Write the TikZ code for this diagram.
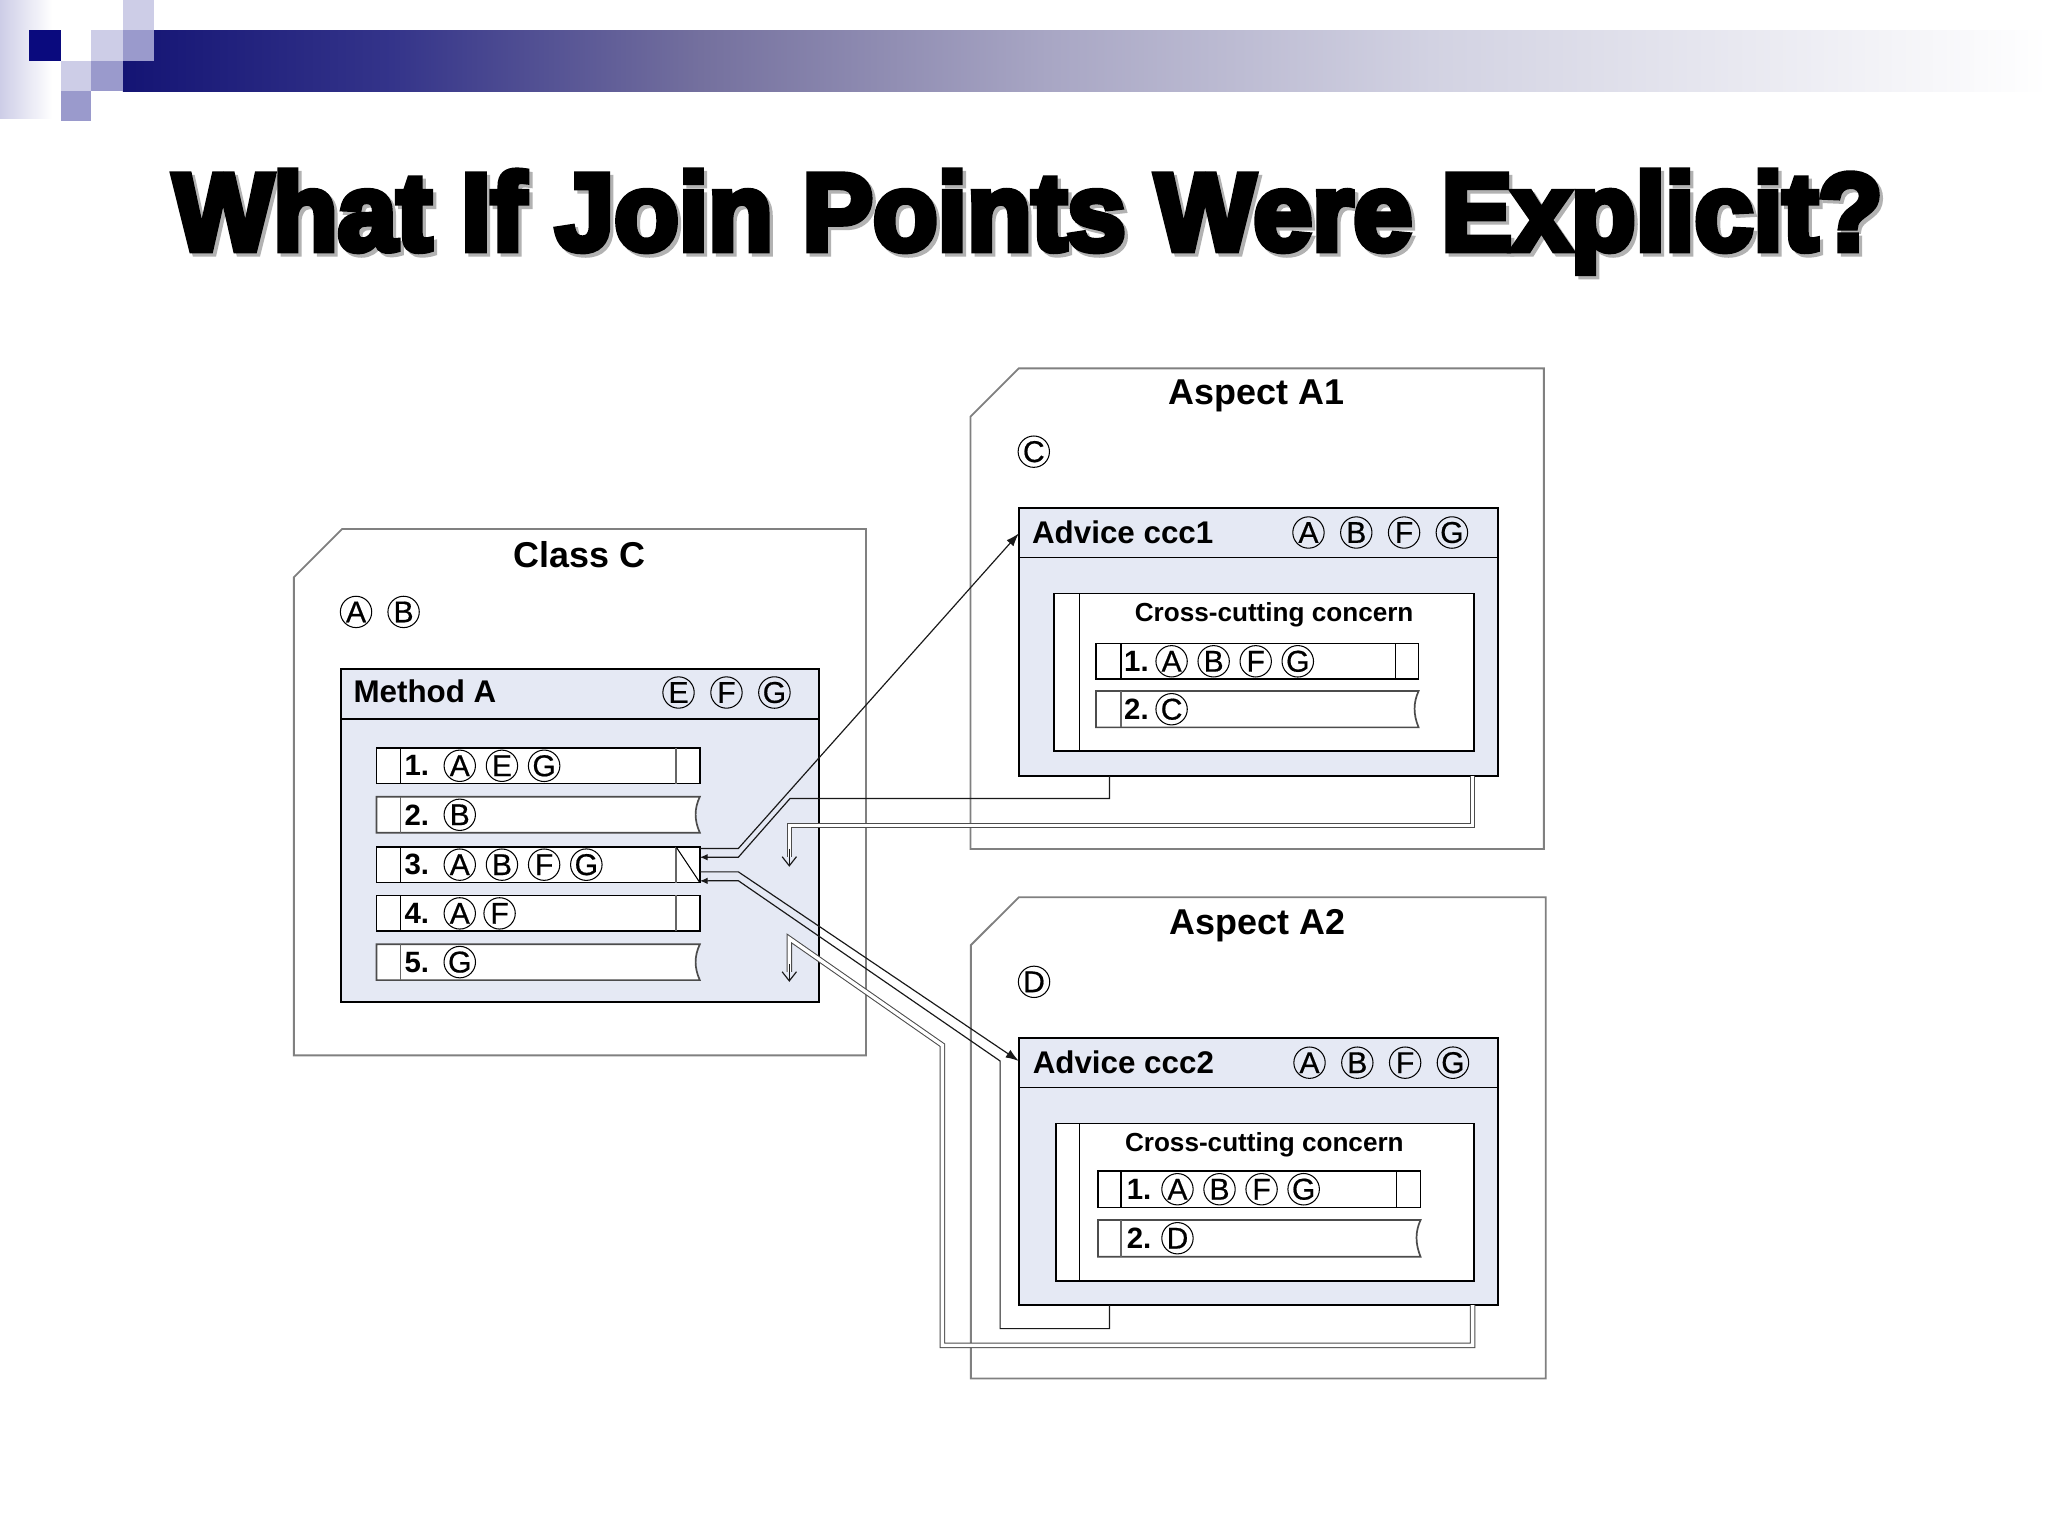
\documentclass[tikz,border=0pt]{standalone}
\usepackage{fontspec}
\setmainfont{Liberation Sans}
\newfontfamily\titlefont[FakeBold=6]{Liberation Sans Bold}
\newfontfamily\jpfont[FakeBold=0.6]{Liberation Sans}
\usetikzlibrary{arrows.meta}

\definecolor{navy}{HTML}{0A0A7E}
\definecolor{lilac}{HTML}{9A9ACC}
\definecolor{lilaclight}{HTML}{CDCDE7}
\definecolor{boxfill}{HTML}{E5E9F4}
\definecolor{bar0}{HTML}{141474}
\definecolor{bar1}{HTML}{34348A}
\definecolor{bar2}{HTML}{74709E}
\definecolor{bar3}{HTML}{A8A6C4}
\definecolor{bar4}{HTML}{D2D2E2}
\definecolor{bar5}{HTML}{EEEEF4}
\pgfdeclarehorizontalshading{topbar}{100bp}{color(0bp)=(bar0); color(25bp)=(bar0); color(32bp)=(bar1); color(40bp)=(bar2); color(49bp)=(bar3); color(59bp)=(bar4); color(69bp)=(bar5); color(75bp)=(white); color(100bp)=(white)}

\begin{document}
\begin{tikzpicture}[x=1pt, y=-1pt,
    shellbox/.style={draw=black!50, line width=1.4pt},
    inbox/.style={draw=black, fill=boxfill, line width=1.4pt, inner sep=0pt, outer sep=0pt, anchor=north west},
    stmt/.style={draw=black, fill=white, line width=1.3pt, inner sep=0pt, outer sep=0pt, anchor=north west, minimum width=247.6pt, minimum height=27.4pt},
    rowbox/.style={draw=black, fill=white, line width=1.3pt},
    torn/.style={draw=black!70, fill=white, line width=1.3pt},
    ttl/.style={anchor=base, inner sep=0pt, font=\titlefont\fontsize{83.8}{90}\selectfont},
    boxtitle/.style={font=\bfseries\fontsize{27.5}{30}\selectfont},
    hd/.style={anchor=west, inner sep=0pt, font=\bfseries\fontsize{24}{26}\selectfont},
    num/.style={anchor=west, inner sep=0pt, font=\bfseries\fontsize{22.5}{24}\selectfont},
    cc/.style={font=\bfseries\fontsize{20}{22}\selectfont},
    jp/.style={circle, draw, line width=0.8pt, inner sep=0pt, minimum size=24pt, font=\jpfont\fontsize{23}{23}\selectfont},
    link/.style={draw=black!90, line width=0.9pt},
    dlink/.style={draw=black!70, line width=0.8pt, double, double distance=2.6pt},
  ]
  \fill[white] (0,0) rectangle (1568,1176);
  \useasboundingbox (0,0) rectangle (1568,1176);

  % Banner
  \shade[left color=lilaclight, right color=white] (0,0) rectangle (40,91);
  \shade[shading=topbar] (94,23) rectangle (1568,70);
  \fill[navy] (22,23) rectangle (47,47);
  \fill[lilaclight] (94,0) rectangle (118,23);
  \fill[lilaclight] (70,23) rectangle (94,47);
  \fill[lilac] (94,23) rectangle (118,47);
  \fill[lilaclight] (47,47) rectangle (70,70);
  \fill[lilac] (70,47) rectangle (94,70);
  \fill[lilac] (47,70) rectangle (70,93);

  % Title
  \node[ttl, text=black!30] (titleshade) at (789.5,194) {\scalebox{0.967}[1]{What If Join Points Were Explicit?}};
  \node[ttl] (title) at (787,191.4) {\scalebox{0.967}[1]{What If Join Points Were Explicit?}};

  % Class C
  \draw[shellbox] (225,442) -- (262,405) -- (663,405) -- (663,808) -- (225,808) -- cycle;
  \node[boxtitle] (classC) at (443.5,424.3) {Class C};
  \node[jp] (cA) at (272.6,468.5) {A};
  \node[jp] (cB) at (309,468.5) {B};

  % Method A
  \node[inbox, minimum width=366pt, minimum height=255pt] (meth) at (261,512) {};
  \draw[line width=1.1pt] (261,550.5) -- (627,550.5);
  \node[hd] (methT) at (270.5,529) {Method A};
  \foreach \l [count=\i] in {E,F,G}
    \node[jp] (mh\l) at ({519.5+36.7*(\i-1)},530.2) {\l};

  % Statements
  \node[stmt] (m1) at (288.2,572.5) {};
  \node[stmt] (m3) at (288.2,648.3) {};
  \node[stmt] (m4) at (288.2,685.5) {};
  \foreach \r in {m1,m3,m4} {
    \draw[line width=1.1pt] (\r.north west) ++(18.5,0) -- ++(0,27.4);
    \draw[black!60, line width=1.1pt] (\r.north east) ++(-18.2,0) -- ++(0,27.4);
  }
  \draw[line width=0.8pt] (m3.north east) ++(-18.2,0) -- (m3.south east);
  \filldraw[torn] (288.2,610) -- (535.8,610) .. controls (531.5,619) and (531.5,628) .. (535.8,637.5) -- (288.2,637.5) -- cycle;
  \filldraw[torn] (288.2,723) -- (535.8,723) .. controls (531.5,732) and (531.5,741) .. (535.8,750.4) -- (288.2,750.4) -- cycle;
  \draw[black!60, line width=1.1pt] (306.7,610) -- (306.7,637.5);
  \draw[black!60, line width=1.1pt] (306.7,723) -- (306.7,750.4);

  \node[num] (n1) at (309.5,586.3) {1.};
  \foreach \l [count=\i] in {A,E,G}
    \node[jp] (p1\l) at ({352+32.3*(\i-1)},586.3) {\l};
  \node[num] (n2) at (309.5,623.8) {2.};
  \node[jp] (p2B) at (352,623.8) {B};
  \node[num] (n3) at (309.5,662) {3.};
  \foreach \l [count=\i] in {A,B,F,G}
    \node[jp] (p3\l) at ({352+32.3*(\i-1)},662) {\l};
  \node[num] (n4) at (309.5,699.3) {4.};
  \node[jp] (p4A) at (352,699.3) {A};
  \node[jp] (p4F) at (382.5,699.3) {F};
  \node[num] (n5) at (309.5,736.6) {5.};
  \node[jp] (p5G) at (352,736.6) {G};

  % Aspect A1
  \draw[shellbox] (743,319) -- (780,282) -- (1182,282) -- (1182,650) -- (743,650) -- cycle;
  \node[boxtitle] (aspA1) at (962,303) {Aspect A1};
  \node[jp] (a1C) at (791.5,345.8) {C};
  \node[inbox, minimum width=366.8pt, minimum height=205pt] (adv1) at (780,389) {};
  \draw[line width=1.1pt] (780,427) -- (1146.8,427);
  \node[hd] (adv1T) at (790,407.5) {Advice ccc1};
  \foreach \l [count=\i] in {A,B,F,G}
    \node[jp] (a1h\l) at ({1001.8+36.6*(\i-1)},407.7) {\l};
  \draw[rowbox] (807,454.3) rectangle (1128.3,574.8);
  \draw[line width=1.1pt] (826.5,454.3) -- (826.5,574.8);
  \node[cc] (cc1) at (975.5,471) {Cross-cutting concern};
  \draw[rowbox] (839.1,492.6) rectangle (1086.1,519.9);
  \draw[line width=1.1pt] (858.1,492.6) -- (858.1,519.9);
  \draw[line width=1.1pt] (1068.2,492.6) -- (1068.2,519.9);
  \filldraw[torn] (839.1,529.1) -- (1086.1,529.1) .. controls (1082,538) and (1082,547) .. (1086.1,556.9) -- (839.1,556.9) -- cycle;
  \draw[black!60, line width=1.1pt] (858.1,529.1) -- (858.1,556.9);
  \node[num] (a1n1) at (860.5,506.3) {1.};
  \foreach \l [count=\i] in {A,B,F,G}
    \node[jp] (a1r\l) at ({897+32.2*(\i-1)},506.3) {\l};
  \node[num] (a1n2) at (860.5,543) {2.};
  \node[jp] (a1rC) at (897,543) {C};

  % Aspect A2
  \draw[shellbox] (743.3,723.6) -- (780,687) -- (1183.4,687) -- (1183.4,1055.4) -- (743.3,1055.4) -- cycle;
  \node[boxtitle] (aspA2) at (963,708.9) {Aspect A2};
  \node[jp] (a2D) at (791.7,751.7) {D};
  \node[inbox, minimum width=366.8pt, minimum height=204.2pt] (adv2) at (780,795) {};
  \draw[line width=1.1pt] (780,832.8) -- (1146.8,832.8);
  \node[hd] (adv2T) at (790.5,813) {Advice ccc2};
  \foreach \l [count=\i] in {A,B,F,G}
    \node[jp] (a2h\l) at ({1002.6+36.6*(\i-1)},813.6) {\l};
  \draw[rowbox] (808.3,860.1) rectangle (1128.3,980.6);
  \draw[line width=1.1pt] (826.5,860.1) -- (826.5,980.6);
  \node[cc] (cc2) at (968,876.7) {Cross-cutting concern};
  \draw[rowbox] (840.6,896.6) rectangle (1087.6,924.4);
  \draw[line width=1.1pt] (858.1,896.6) -- (858.1,924.4);
  \draw[line width=1.1pt] (1069.1,896.6) -- (1069.1,924.4);
  \filldraw[torn] (840.6,934.1) -- (1087.6,934.1) .. controls (1083.5,943) and (1083.5,952) .. (1087.6,962.2) -- (840.6,962.2) -- cycle;
  \draw[black!60, line width=1.1pt] (858.1,934.1) -- (858.1,962.2);
  \node[num] (a2n1) at (862.5,910.5) {1.};
  \foreach \l [count=\i] in {A,B,F,G}
    \node[jp] (a2r\l) at ({901.5+32.2*(\i-1)},910.5) {\l};
  \node[num] (a2n2) at (862.5,948) {2.};
  \node[jp] (a2rD) at (901.5,948) {D};

  % Calls into the advice
  \draw[link, -{Latex[length=10pt,width=7pt]}] ([yshift=-1.3pt]m3.north east) -- ++(29.5,0) -- ([yshift=-19.4pt]adv1.north west);
  \draw[link, -{Latex[length=10pt,width=7pt]}] ([yshift=8.2pt]m3.south east) -- ++(29.5,0) -- ([yshift=-17.3pt]adv2.north west);

  % Returns
  \draw[link, -{Latex[length=6pt,width=5pt]}] ([xshift=69.4pt]adv1.south west) |- (604.9,611.3) -- (565.3,656.3) -- ([yshift=-8pt]m3.north east);
  \draw[link, -{Latex[length=6pt,width=5pt]}] ([xshift=69.4pt]adv2.south west) |- (765.7,1017.2) -- (765.7,812.3) -- (565.3,674.3) -- ([yshift=1.3pt]m3.south east);

  % Proceed
  \draw[dlink] ([xshift=-19.3pt]adv1.south east) |- (604.3,632) -- (604.3,656);
  \draw[link, -{Straight Barb[length=7pt,width=11pt]}] (604.3,650) -- (604.3,663.6);
  \draw[dlink] ([xshift=-19.3pt]adv2.south east) |- (721.5,1030) -- (721.5,800.2) -- (604.3,718.5) -- (604.3,744);
  \draw[link, -{Straight Barb[length=7pt,width=11pt]}] (604.3,738) -- (604.3,751.7);
\end{tikzpicture}
\end{document}
